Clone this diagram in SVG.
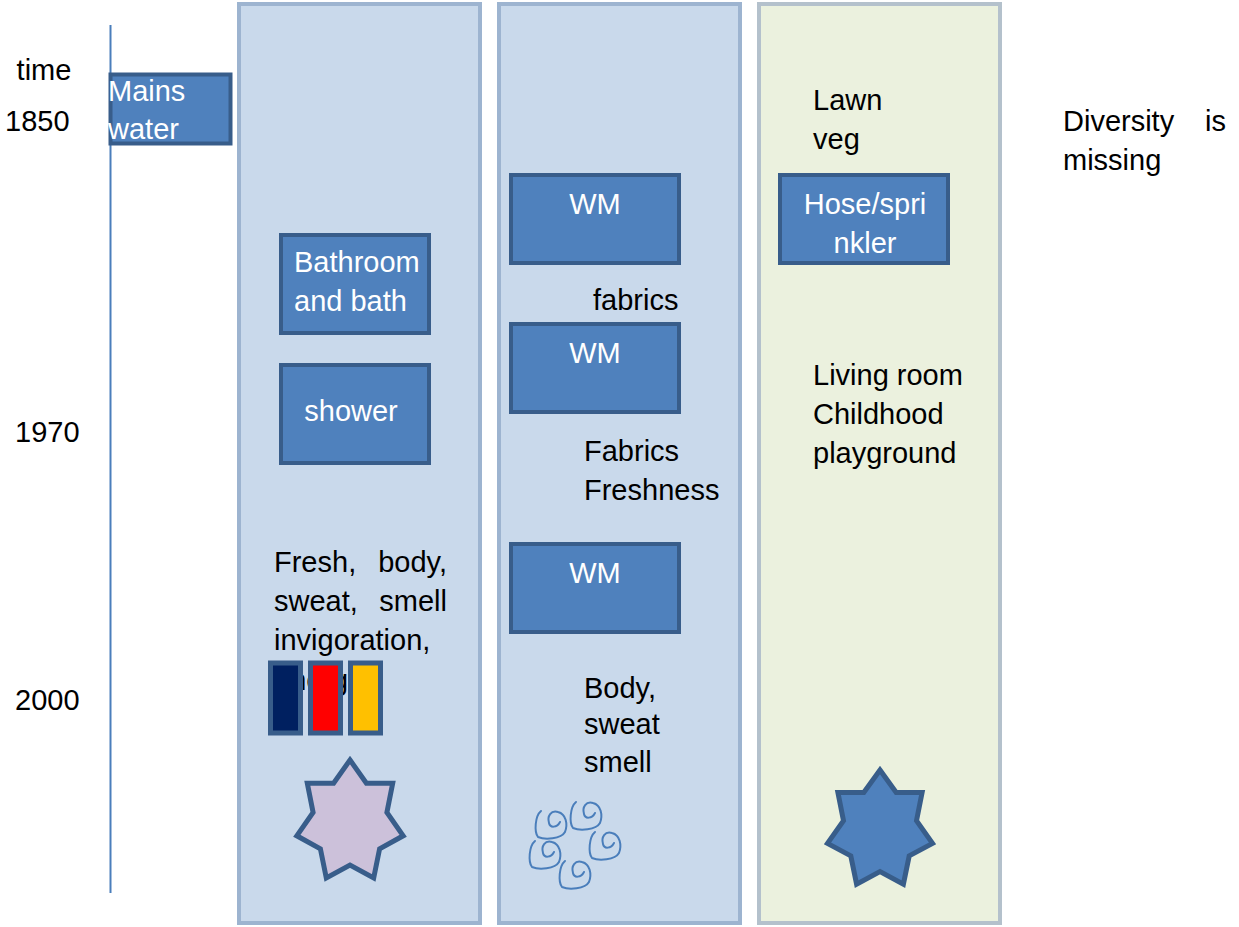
<svg xmlns="http://www.w3.org/2000/svg" width="1239" height="927" viewBox="0 0 1239 927">
<style>
text{font-family:"Liberation Sans",Arial,sans-serif;font-size:29px;fill:#000}
.w{fill:#fff}
.panel{fill:#c9d9eb;stroke:#9db4d0;stroke-width:4}
.panelg{fill:#ebf1de;stroke:#b4c1cc;stroke-width:4}
.box{fill:#4f81bd;stroke:#385d8a;stroke-width:4}
.bar{stroke:#385d8a;stroke-width:5}
.star{stroke:#385d8a;stroke-width:5;stroke-linejoin:miter}
.sw{fill:none;stroke:#4a7ebb;stroke-width:2;stroke-linecap:round}
</style>
<defs>
<path id="swirl" class="sw" d="M7 1 C1 6, 0 22, 4 27 C11 30, 27 29, 31 22 C34 14, 32 4, 24 2 C17 0, 13 6, 15 13 C16 18, 23 18, 26 12"/>
</defs>
<rect width="1239" height="927" fill="#fff"/>

<g id="panel-bath">
<rect class="panel" x="239" y="4" width="241" height="919"/>
</g>
<g id="panel-laundry">
<rect class="panel" x="499" y="4" width="241" height="919"/>
</g>
<g id="panel-garden">
<rect class="panelg" x="759" y="4" width="241" height="919"/>
</g>

<g id="connectors">
<line x1="110.5" y1="25" x2="110.5" y2="893" stroke="#4a7ebb" stroke-width="2"/>
</g>

<g id="timeline-labels">
<text x="44" y="80" text-anchor="middle">time</text>
<text x="5" y="131">1850</text>
<text x="15" y="442">1970</text>
<text x="15" y="710">2000</text>
</g>

<g id="mains-water">
<rect class="box" x="110.5" y="74.5" width="120" height="69" stroke-width="5"/>
<text class="w" x="108" y="101">Mains</text>
<text class="w" x="108" y="139">water</text>
</g>

<g id="bathroom">
<rect class="box" x="281" y="235" width="148" height="98"/>
<text class="w" x="294" y="272">Bathroom</text>
<text class="w" x="294" y="311">and bath</text>
</g>

<g id="shower">
<rect class="box" x="281" y="365" width="148" height="98"/>
<text class="w" x="351" y="421" text-anchor="middle">shower</text>
</g>

<g id="bath-text">
<text x="274" y="572">Fresh,</text>
<text x="447" y="572" text-anchor="end">body,</text>
<text x="274" y="611">sweat,</text>
<text x="447" y="611" text-anchor="end">smell</text>
<text x="274" y="650">invigoration,</text>
<text x="274" y="690">energy</text>
</g>

<g id="bars">
<rect class="bar" x="270.5" y="663" width="30" height="70" fill="#002060"/>
<rect class="bar" x="310.5" y="663" width="30" height="70" fill="#ff0000"/>
<rect class="bar" x="350.5" y="663" width="30" height="70" fill="#ffc000"/>
</g>

<g id="star-bath">
<polygon class="star" fill="#ccc1da" points="350,760 366.4,783.3 392.7,783.3 386.9,812.4 403.2,835.8 379.6,848.8 373.7,877.9 350,865 326.3,877.9 320.4,848.8 296.8,835.8 313.1,812.4 307.3,783.3 333.6,783.3"/>
</g>

<g id="wm1">
<rect class="box" x="511" y="175" width="168" height="88"/>
<text class="w" x="595" y="214" text-anchor="middle">WM</text>
</g>
<g id="fabrics1">
<text x="593" y="310">fabrics</text>
</g>
<g id="wm2">
<rect class="box" x="511" y="324" width="168" height="88"/>
<text class="w" x="595" y="363" text-anchor="middle">WM</text>
</g>
<g id="fabrics2">
<text x="584" y="461">Fabrics</text>
<text x="584" y="500">Freshness</text>
</g>
<g id="wm3">
<rect class="box" x="511" y="544" width="168" height="88"/>
<text class="w" x="595" y="583" text-anchor="middle">WM</text>
</g>
<g id="body-text">
<text x="584" y="698">Body,</text>
<text x="584" y="734">sweat</text>
<text x="584" y="772">smell</text>
</g>

<g id="swirls">
<use href="#swirl" transform="translate(534,810)"/>
<use href="#swirl" transform="translate(569,801)"/>
<use href="#swirl" transform="translate(588,831)"/>
<use href="#swirl" transform="translate(528,840)"/>
<use href="#swirl" transform="translate(558,860)"/>
</g>

<g id="lawn-text">
<text x="813" y="110">Lawn</text>
<text x="813" y="149">veg</text>
</g>
<g id="hose">
<rect class="box" x="780" y="175" width="168" height="88"/>
<text class="w" x="865" y="214" text-anchor="middle">Hose/spri</text>
<text class="w" x="865" y="253" text-anchor="middle">nkler</text>
</g>
<g id="living-text">
<text x="813" y="385">Living room</text>
<text x="813" y="424">Childhood</text>
<text x="813" y="463">playground</text>
</g>
<g id="star-garden">
<polygon class="star" fill="#4f81bd" points="880,770 896.2,792.5 922.1,792.6 916.5,820.7 932.5,843.4 909.2,855.9 903.4,884.1 880,871.6 856.6,884.1 850.8,855.9 827.5,843.4 843.5,820.7 837.9,792.6 863.8,792.5"/>
</g>

<g id="diversity">
<text x="1063" y="131">Diversity</text>
<text x="1226" y="131" text-anchor="end">is</text>
<text x="1063" y="170">missing</text>
</g>
</svg>
